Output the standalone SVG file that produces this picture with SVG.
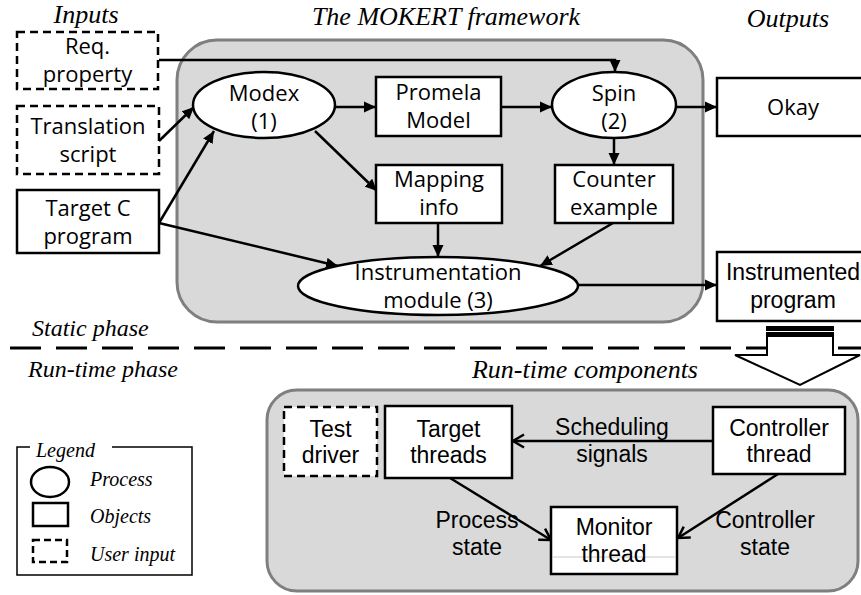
<svg xmlns="http://www.w3.org/2000/svg" width="861" height="595" viewBox="0 0 861 595">
<defs>
<marker id="fa" markerUnits="userSpaceOnUse" markerWidth="13" markerHeight="12" refX="12" refY="6" orient="auto">
<path d="M0,0.5 L12,6 L0,11.5 z" fill="#000"/>
</marker>
<marker id="va" markerUnits="userSpaceOnUse" markerWidth="16" markerHeight="16" refX="13" refY="8" orient="auto">
<path d="M2,1.5 L13,8 L2,14.5" fill="none" stroke="#000" stroke-width="2.5"/>
</marker>
</defs>
<style>
.grp{fill:#d9d9d9;stroke:#7f7f7f;stroke-width:3}
.box{fill:#fff;stroke:#000;stroke-width:2.5}
.dbox{fill:#fff;stroke:#000;stroke-width:2.5;stroke-dasharray:8 5}
.ell{fill:#fff;stroke:#000;stroke-width:2.5}
.c{fill:none;stroke:#000;stroke-width:2.5}
.t{font-family:"Open Sans","Noto Sans",sans-serif;font-size:22px;fill:#000;text-anchor:middle}
.a{font-family:"Liberation Sans",Arial,sans-serif;font-size:23px;fill:#000;text-anchor:middle}
.h{font-family:"Liberation Serif","Times New Roman",serif;font-style:italic;font-size:26px;fill:#000}
.p{font-family:"Liberation Serif","Times New Roman",serif;font-style:italic;font-size:24px;fill:#000}
.l{font-family:"Liberation Serif","Times New Roman",serif;font-style:italic;font-size:20px;fill:#000}
</style>

<rect width="861" height="595" fill="#fff"/>

<!-- headers -->
<text class="h" x="86" y="23" text-anchor="middle">Inputs</text>
<text class="h" x="446" y="25" text-anchor="middle">The MOKERT framework</text>
<text class="h" x="788" y="27" text-anchor="middle">Outputs</text>
<text class="p" x="32" y="336">Static phase</text>
<text class="p" x="28" y="377">Run-time phase</text>
<text class="h" x="585" y="378" text-anchor="middle">Run-time components</text>

<!-- group backgrounds -->
<rect id="framework" class="grp" x="177" y="40" width="526" height="282" rx="40" ry="40"/>
<rect id="runtime" class="grp" x="267" y="390" width="591" height="201" rx="30" ry="30"/>

<!-- phase divider -->
<line x1="10" y1="348" x2="861" y2="348" stroke="#000" stroke-width="3" stroke-dasharray="31 15"/>

<!-- block arrow -->
<g id="block-arrow">
<polygon points="767,330 833,330 833,355 860,355 800,385 735,355 767,355" fill="#fff" stroke="#000" stroke-width="2"/>
<rect x="766" y="326" width="68" height="11" fill="#000"/>
<line x1="766" y1="331.5" x2="834" y2="331.5" stroke="#fff" stroke-width="1.2"/>
</g>

<!-- connectors -->
<g id="connectors">
<polyline class="c" points="159,60 615,60 615,72" marker-end="url(#fa)"/>
<line class="c" x1="159" y1="141" x2="194" y2="107" marker-end="url(#fa)"/>
<line class="c" x1="159" y1="223" x2="214" y2="131" marker-end="url(#fa)"/>
<line class="c" x1="159" y1="223" x2="338" y2="266" marker-end="url(#fa)"/>
<line class="c" x1="335" y1="107" x2="376" y2="107" marker-end="url(#fa)"/>
<line class="c" x1="501" y1="107" x2="552" y2="107" marker-end="url(#fa)"/>
<line class="c" x1="677" y1="107" x2="717" y2="107" marker-end="url(#fa)"/>
<line class="c" x1="315" y1="131" x2="377" y2="191" marker-end="url(#fa)"/>
<line class="c" x1="614" y1="137" x2="614" y2="165" marker-end="url(#fa)"/>
<line class="c" x1="438" y1="223" x2="438" y2="257" marker-end="url(#fa)"/>
<line class="c" x1="613" y1="223" x2="540" y2="266" marker-end="url(#fa)"/>
<line class="c" x1="578" y1="285" x2="717" y2="285" marker-end="url(#fa)"/>
<line class="c" x1="713" y1="441" x2="513" y2="441" marker-end="url(#va)"/>
<line class="c" x1="450" y1="478" x2="551" y2="540" marker-end="url(#va)"/>
<line class="c" x1="778" y1="474" x2="678" y2="538" marker-end="url(#va)"/>
</g>

<!-- nodes -->
<g id="req-property">
<rect class="dbox" x="17" y="32" width="141" height="57"/>
<text class="t" x="87.5" y="54">Req.</text>
<text class="t" x="87.5" y="82">property</text>
</g>
<g id="translation-script">
<rect class="dbox" x="17" y="106" width="142" height="68"/>
<text class="t" x="88" y="134">Translation</text>
<text class="t" x="88" y="162">script</text>
</g>
<g id="target-c-program">
<rect class="box" x="17" y="190" width="142" height="63"/>
<text class="t" x="88" y="216">Target C</text>
<text class="t" x="88" y="244">program</text>
</g>
<g id="modex">
<ellipse class="ell" cx="264" cy="105" rx="71" ry="33"/>
<text class="t" x="264" y="101">Modex</text>
<text class="t" x="264" y="129">(1)</text>
</g>
<g id="promela-model">
<rect class="box" x="376" y="77" width="125" height="59"/>
<text class="t" x="438.5" y="100">Promela</text>
<text class="t" x="438.5" y="128">Model</text>
</g>
<g id="spin">
<ellipse class="ell" cx="614" cy="105" rx="62" ry="33"/>
<text class="t" x="614" y="101">Spin</text>
<text class="t" x="614" y="129">(2)</text>
</g>
<g id="okay">
<rect class="box" x="717" y="78" width="153" height="58"/>
<text class="t" x="793" y="115">Okay</text>
</g>
<g id="mapping-info">
<rect class="box" x="376" y="165" width="126" height="58"/>
<text class="t" x="439" y="187">Mapping</text>
<text class="t" x="439" y="215">info</text>
</g>
<g id="counter-example">
<rect class="box" x="555" y="165" width="118" height="58"/>
<text class="t" x="614" y="187">Counter</text>
<text class="t" x="614" y="215">example</text>
</g>
<g id="instrumentation-module">
<ellipse class="ell" cx="438" cy="286" rx="140" ry="29"/>
<text class="t" x="438" y="280">Instrumentation</text>
<text class="t" x="438" y="308">module (3)</text>
</g>
<g id="instrumented-program">
<rect class="box" x="717" y="252" width="153" height="69"/>
<text class="a" x="793" y="280">Instrumented</text>
<text class="a" x="793" y="308">program</text>
</g>
<g id="test-driver">
<rect class="dbox" x="284" y="407" width="93" height="69"/>
<text class="a" x="330.5" y="437">Test</text>
<text class="a" x="330.5" y="463">driver</text>
</g>
<g id="target-threads">
<rect class="box" x="385" y="406" width="127" height="72"/>
<text class="a" x="448.5" y="437">Target</text>
<text class="a" x="448.5" y="463">threads</text>
</g>
<g id="controller-thread">
<rect class="box" x="713" y="407" width="132" height="67"/>
<text class="a" x="779" y="436">Controller</text>
<text class="a" x="779" y="462">thread</text>
</g>
<g id="monitor-thread">
<rect class="box" x="551" y="507" width="126" height="67"/>
<line x1="553" y1="557" x2="675" y2="557" stroke="#c8c8c8" stroke-width="1"/>
<text class="a" x="614" y="535">Monitor</text>
<text class="a" x="614" y="562">thread</text>
</g>

<!-- connector labels -->
<g id="labels">
<text class="a" x="612" y="435">Scheduling</text>
<text class="a" x="612" y="462">signals</text>
<text class="a" x="477" y="528">Process</text>
<text class="a" x="477" y="555">state</text>
<text class="a" x="765" y="528">Controller</text>
<text class="a" x="765" y="555">state</text>
</g>

<!-- legend -->
<g id="legend">
<polyline points="30,447 17,447 17,575 192,575 192,447 112,447" fill="none" stroke="#000" stroke-width="1.5"/>
<text class="l" x="36" y="457">Legend</text>
<ellipse cx="50" cy="482" rx="19" ry="15" fill="#fff" stroke="#000" stroke-width="2.5"/>
<rect x="33" y="503" width="35" height="23" fill="#fff" stroke="#000" stroke-width="2.5"/>
<rect x="33" y="540" width="34" height="22" fill="#fff" stroke="#000" stroke-width="2.5" stroke-dasharray="7 4"/>
<text class="l" x="90" y="486">Process</text>
<text class="l" x="90" y="523">Objects</text>
<text class="l" x="90" y="561">User input</text>
</g>
</svg>
